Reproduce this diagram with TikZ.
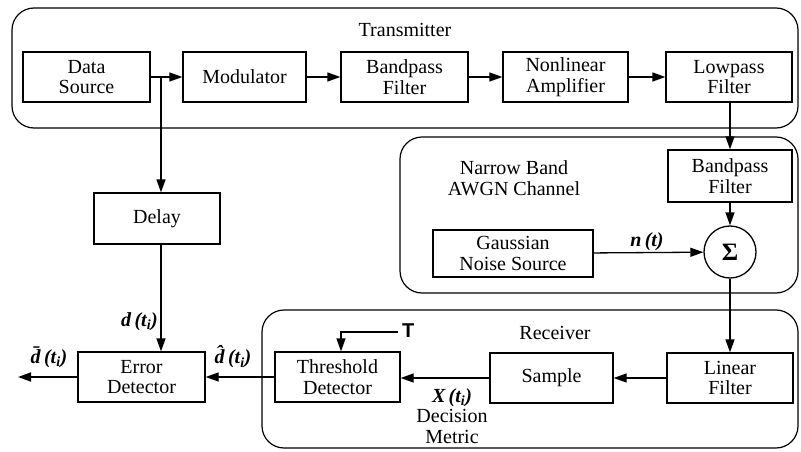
\documentclass[tikz,border=0pt]{standalone}
\usepackage{fontspec}
\setmainfont{Liberation Serif}
\newfontfamily\tsans{Liberation Sans}
\usetikzlibrary{arrows.meta}
\begin{document}
\begin{tikzpicture}[x=1pt,y=-1pt,
  font=\fontsize{20}{20.5}\selectfont,
  blk/.style={draw,line width=1.3pt,align=center,inner sep=0pt,minimum height=50pt},
  cont/.style={draw,line width=1.2pt,rounded corners=22pt},
  arr/.style={line width=1.3pt,-{Triangle[length=13pt,width=9pt]}},
  ln/.style={line width=1.3pt},
  lab/.style={inner sep=0pt,font=\fontsize{20}{20.5}\selectfont\bfseries\itshape}]
\useasboundingbox (0,0) rectangle (801,452);
% containers
\draw[cont] (12,8) rectangle (798,128);
\draw[cont] (400,137) rectangle (798,293);
\draw[cont] (262,310) rectangle (798,448);
\node[inner sep=0pt] (ttx) at (405,30) {Transmitter};
\node[inner sep=0pt,align=center] (tch) at (514,178) {Narrow Band\\AWGN Channel};
\node[inner sep=0pt] (trx) at (555,333) {Receiver};
% transmitter blocks
\node[blk,minimum width=127pt] (ds) at (86.5,77) {Data\\Source};
\node[blk,minimum width=123pt] (mod) at (244.5,77) {Modulator};
\node[blk,minimum width=127pt] (bpf) at (404.5,77) {Bandpass\\Filter};
\node[blk,minimum width=125pt] (nla) at (565.5,77) {Nonlinear\\Amplifier};
\node[blk,minimum width=126pt] (lpf) at (729,77) {Lowpass\\Filter};
% channel
\node[blk,minimum width=124pt,minimum height=52pt] (cbpf) at (730,176) {Bandpass\\Filter};
\node[draw,circle,line width=1.3pt,minimum size=52pt,inner sep=0pt,font=\fontsize{25}{25}\selectfont\bfseries] (sum) at (730,252) {Σ};
\node[blk,minimum width=160pt,minimum height=47pt] (gns) at (513,253.5) {Gaussian\\Noise Source};
% delay
\node[blk,minimum width=126pt,minimum height=51pt] (dly) at (157,218.5) {Delay};
% receiver
\node[blk,minimum width=126pt] (lf) at (730,378) {Linear\\Filter};
\node[blk,minimum width=123pt] (smp) at (551.5,378) {Sample};
\node[blk,minimum width=125pt] (thr) at (337.5,377) {Threshold\\Detector};
\node[blk,minimum width=127pt] (err) at (141.5,377) {Error\\Detector};
% coordinates
\coordinate (br) at (161,77);
\coordinate (tT) at (398,332);
\coordinate (tk) at (341,332);
\coordinate (out) at (18,377);
% connectors
\draw[ln] (ds.east |- br) -- (br);
\draw[arr] (br) -- (mod.west |- br);
\draw[arr] (mod) -- (bpf);
\draw[arr] (bpf) -- (nla);
\draw[arr] (nla) -- (lpf);
\draw[arr] (lpf.south -| cbpf.north) -- (cbpf.north);
\draw[arr] (cbpf) -- (sum);
\draw[arr] (gns) -- (sum);
\draw[arr] (sum) -- (lf);
\draw[arr] (lf) -- (smp);
\draw[arr] (smp.west) -- (thr.east |- smp.west);
\draw[arr] (thr) -- (err);
\draw[arr,line width=1.8pt] (err) -- (out);
\draw[arr] (br) -- (br |- dly.north);
\draw[arr] (br |- dly.south) -- (br |- err.north);
\draw[arr] (tT) -- (tk) -- (tk |- thr.north);
% labels
\node[inner sep=0pt,font=\fontsize{20}{20}\selectfont\tsans\bfseries,anchor=west] (T) at (402,331) {T};
\node[lab] (nt) at (647,242) {n\,(t)};
\node[lab,anchor=east] (dti) at (158,322) {d\,(t\textsubscript{i})};
\node[lab] (dhat) at (233,357) {\^{d}\,(t\textsubscript{i})};
\node[lab] (dbar) at (49,357) {\={d}\,(t\textsubscript{i})};
\node[inner sep=0pt,align=center] (xdm) at (452,416) {{\bfseries\itshape X\,(t\textsubscript{i})}\\Decision\\Metric};
\end{tikzpicture}
\end{document}
